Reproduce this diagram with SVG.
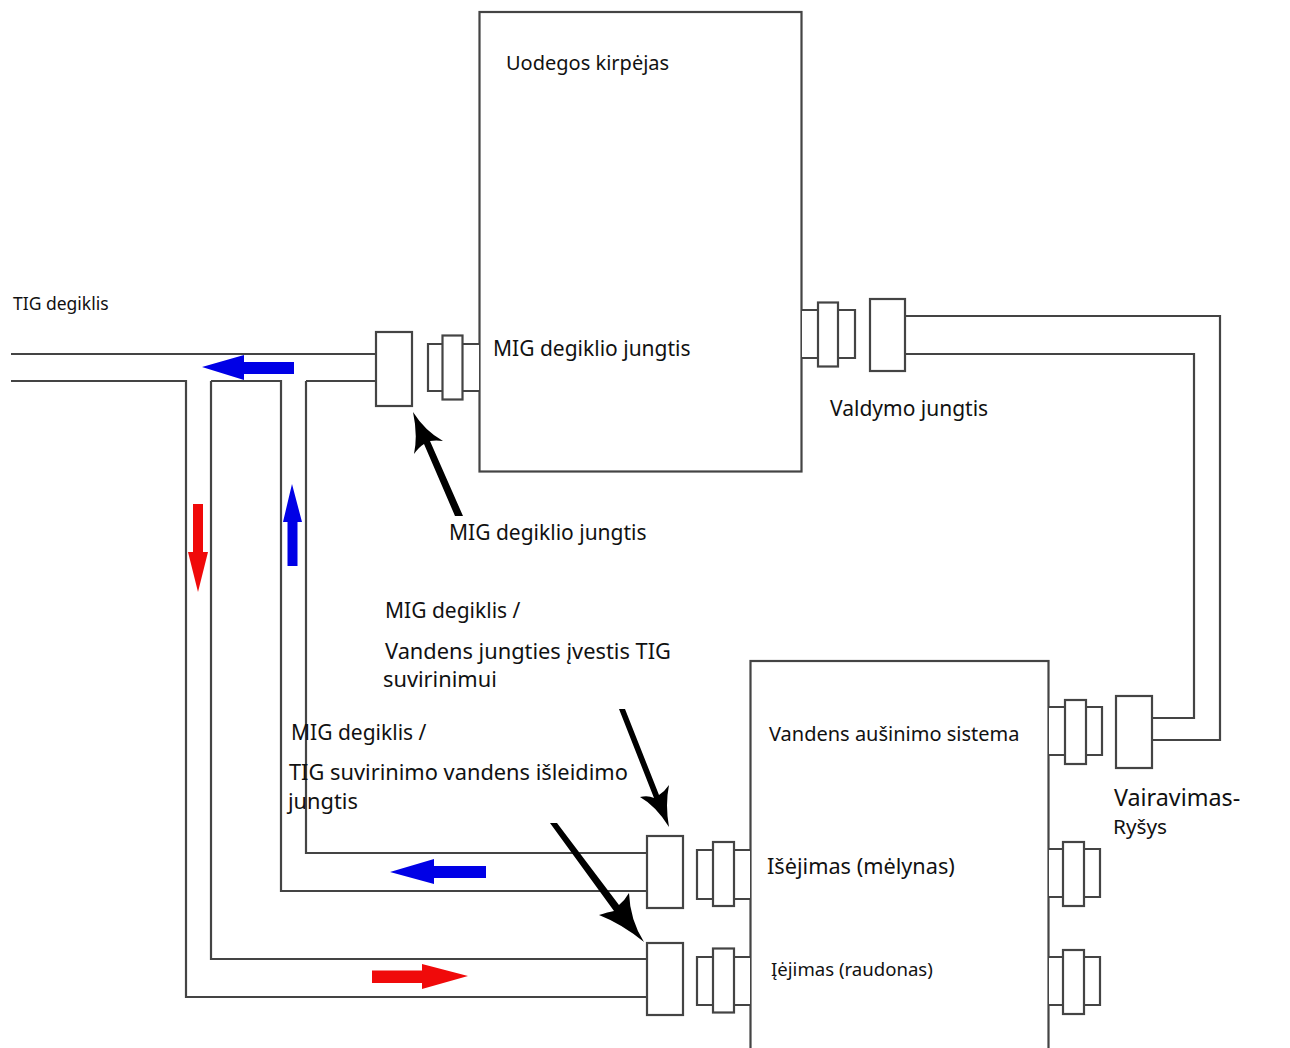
<svg xmlns="http://www.w3.org/2000/svg" width="1290" height="1048" viewBox="0 0 1290 1048">
<defs>
<style>
.s{fill:#fff;stroke:#444;stroke-width:2.200}
.l{fill:none;stroke:#444;stroke-width:2.200}
.t{font-family:"Noto Sans","DejaVu Sans",sans-serif;fill:#111}
.b{fill:#0000e6}
.r{fill:#f00a0a}
.k{fill:#000}
</style>
</defs>
<rect width="1290" height="1048" fill="#fff"/>
<g id="connectors">
<path class="l" d="M11 354H376M11 381H186V997H647M211 381H281V891H647M211 381V959H647M306 381H376M306 381V853H647"/>
<path class="l" d="M905 316H1220V740H1152M905 354H1194V718H1152"/>
</g>
<g id="tail-shear">
<rect class="s" x="479.500" y="12" width="322" height="459.500"/>
<text class="t" x="506" y="70" font-size="20">Uodegos kirpėjas</text>
<text class="t" x="493" y="356" font-size="21">MIG degiklio jungtis</text>
</g>
<g id="mig-socket">
<path class="s" d="M479 344H428V391H479"/>
<rect class="s" x="442.500" y="335.500" width="20" height="64"/>
<rect class="s" x="376" y="332" width="36" height="74"/>
</g>
<g id="control-socket">
<path class="s" d="M802 310H855V358H802"/>
<rect class="s" x="818" y="302.500" width="20" height="64"/>
<rect class="s" x="870" y="299" width="35" height="72"/>
</g>
<g id="water-cooling">
<rect class="s" x="750.500" y="661" width="298" height="400"/>
<text class="t" x="769" y="741" font-size="20">Vandens aušinimo sistema</text>
<text class="t" x="767" y="874" font-size="21.700">Išėjimas (mėlynas)</text>
<text class="t" x="771" y="976" font-size="18.600">Įėjimas (raudonas)</text>
</g>
<g id="water-out-socket">
<path class="s" d="M750 850H697V899H750"/>
<rect class="s" x="713" y="842" width="21" height="64"/>
<rect class="s" x="647" y="836" width="36" height="72"/>
</g>
<g id="water-in-socket">
<path class="s" d="M750 957H697V1005H750"/>
<rect class="s" x="713" y="948.500" width="21" height="64"/>
<rect class="s" x="647" y="943" width="36" height="72"/>
</g>
<g id="control-socket-2">
<path class="s" d="M1049 707H1102V755H1049"/>
<rect class="s" x="1065" y="700" width="21" height="64"/>
<rect class="s" x="1116" y="696" width="36" height="72"/>
</g>
<g id="right-socket-1">
<path class="s" d="M1049 849H1100V897H1049"/>
<rect class="s" x="1063" y="842" width="21" height="64"/>
</g>
<g id="right-socket-2">
<path class="s" d="M1049 957H1100V1005H1049"/>
<rect class="s" x="1063" y="950" width="21" height="64"/>
</g>
<g id="arrows">
<path class="b" d="M202 367L244 355V362H294V374H244V380Z"/>
<path class="b" d="M292 484L302 522H297.500V566H287.500V522H283Z"/>
<path class="r" d="M198 592L188 552H193V504H203V552H208Z"/>
<path class="b" d="M390 872L434 859V866H486V878H434V884Z"/>
<path class="r" d="M468 976L422 964V970.500H372V983H422V989Z"/>
<path class="k" d="M455 516L424 444Q419 447 414 454Q418 435 413 412Q425 431 443 441Q436 440 430 441L463 516Z"/>
<path class="k" d="M619 709H625L659 795Q665 791 669 785Q665 805 669 827Q656 806 640 797Q648 795 654 798Z"/>
<path class="k" d="M550 823H557L619 905Q625 900 629 893Q630 920 644 942Q622 924 599 915Q608 912 614 911Z"/>
</g>
<g id="labels">
<text class="t" x="13" y="310" font-size="17.500">TIG degiklis</text>
<text class="t" x="830" y="416" font-size="21">Valdymo jungtis</text>
<text class="t" x="449" y="540" font-size="21">MIG degiklio jungtis</text>
<text class="t" x="385" y="618" font-size="21">MIG degiklis /</text>
<text class="t" x="385" y="659" font-size="21.800">Vandens jungties įvestis TIG</text>
<text class="t" x="383" y="687" font-size="21.800">suvirinimui</text>
<text class="t" x="291" y="740" font-size="21">MIG degiklis /</text>
<text class="t" x="289" y="780" font-size="21.800">TIG suvirinimo vandens išleidimo</text>
<text class="t" x="288" y="809" font-size="21.800">jungtis</text>
<text class="t" x="1114" y="806" font-size="23.300">Vairavimas-</text>
<text class="t" x="1113" y="834" font-size="20.800">Ryšys</text>
</g>
</svg>
